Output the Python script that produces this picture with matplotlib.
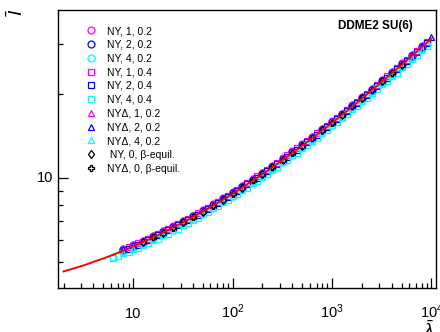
import matplotlib
matplotlib.use("Agg")
import matplotlib.pyplot as plt
from matplotlib.ticker import LogLocator, NullFormatter
from matplotlib.lines import Line2D

plt.rcParams['font.family'] = ['Liberation Sans', 'DejaVu Sans']
plt.rcParams['mathtext.fontset'] = 'custom'
plt.rcParams['mathtext.rm'] = 'Liberation Sans'
plt.rcParams['mathtext.it'] = 'Liberation Sans:italic'
plt.rcParams['mathtext.bf'] = 'Liberation Sans:bold'

# ---------------- data ----------------
lam_fit = [2, 2.5, 3.2, 4, 5, 6.3, 8, 10, 12.5, 16, 20, 25, 32, 40, 50, 63, 80, 100, 125, 160, 200,
           250, 320, 400, 500, 630, 800, 1000, 1250, 1600, 2000, 2500, 3200, 4000, 5000, 6300, 8000, 10000]
I_fit = [4.64, 4.75, 4.88, 5.02, 5.16, 5.32, 5.51, 5.70, 5.90, 6.14, 6.38, 6.64, 6.95, 7.26, 7.59, 7.96, 8.37,
         8.79, 9.25, 9.80, 10.33, 10.91, 11.61, 12.30, 13.04, 13.87, 14.80, 15.75, 16.78, 18.01, 19.23, 20.54,
         22.12, 23.67, 25.35, 27.22, 29.33, 31.46]

lam_a = [8, 10, 12.5, 16, 20, 25, 32, 40, 50, 63, 80, 100, 125, 160, 200, 250, 320, 400, 500, 630, 800,
         1000, 1250, 1600, 2000, 2500, 3200, 4000, 5000, 6300, 8000]
lam_a_ext = lam_a + [10000]
lam_a_low = [6.3] + lam_a
lam_b = [9, 11.2, 14.1, 17.8, 22.4, 28.2, 35.5, 44.7, 56.2, 70.8, 89.1, 112, 141, 178, 224, 282, 355, 447,
         562, 708, 891, 1122, 1413, 1778, 2239, 2818, 3548, 4467, 5623, 7079, 8913]
lam_b_low = [6.3, 7.08] + lam_b

I_ny_1_02 = [5.57, 5.76, 5.97, 6.22, 6.46, 6.72, 7.03, 7.34, 7.68, 8.05, 8.47, 8.90, 9.36, 9.91, 10.45, 11.04,
             11.75, 12.45, 13.20, 14.04, 14.98, 15.94, 16.98, 18.23, 19.46, 20.79, 22.39, 23.95, 25.65, 27.55, 29.68]
I_ny_2_02 = [5.54, 5.72, 5.93, 6.17, 6.41, 6.67, 6.98, 7.29, 7.62, 8.00, 8.41, 8.84, 9.29, 9.84, 10.38, 10.96,
             11.67, 12.36, 13.11, 13.94, 14.87, 15.83, 16.86, 18.10, 19.33, 20.64, 22.23, 23.79, 25.48, 27.36, 29.48]
I_ny_4_02 = [5.24, 5.43, 5.61, 5.81, 6.05, 6.28, 6.54, 6.85, 7.15, 7.47, 7.84, 8.25, 8.66, 9.11, 9.65, 10.18,
             10.75, 11.44, 12.12, 12.84, 13.66, 14.58, 15.51, 16.53, 17.74, 18.94, 20.23, 21.79, 23.31, 24.97,
             26.81, 28.89]
I_ny_1_04 = [5.65, 5.84, 6.07, 6.31, 6.56, 6.85, 7.16, 7.48, 7.83, 8.23, 8.65, 9.09, 9.59, 10.14, 10.70, 11.34,
             12.05, 12.76, 13.56, 14.44, 15.39, 16.39, 17.52, 18.76, 20.03, 21.49, 23.06, 24.70, 26.48, 28.49, 30.62]
I_ny_2_04 = [5.59, 5.78, 6.01, 6.25, 6.50, 6.78, 7.09, 7.41, 7.75, 8.15, 8.56, 9.00, 9.50, 10.04, 10.60, 11.23,
             11.93, 12.63, 13.42, 14.30, 15.24, 16.23, 17.35, 18.57, 19.83, 21.28, 22.83, 24.45, 26.22, 28.20, 30.32]
I_ny_4_04 = [5.18, 5.26, 5.44, 5.63, 5.85, 6.08, 6.33, 6.60, 6.90, 7.21, 7.55, 7.93, 8.34, 8.77, 9.25, 9.78,
             10.32, 10.94, 11.62, 12.31, 13.07, 13.93, 14.84, 15.80, 16.89, 18.09, 19.31, 20.72, 22.24, 23.81,
             25.53, 27.47, 29.53]
I_nyd_1_02 = [5.61, 5.80, 6.00, 6.25, 6.50, 6.76, 7.08, 7.39, 7.72, 8.10, 8.52, 8.95, 9.41, 9.97, 10.52, 11.11,
              11.82, 12.52, 13.27, 14.12, 15.07, 16.03, 17.08, 18.33, 19.58, 20.91, 22.52, 24.10, 25.81, 27.71, 29.86]
I_nyd_2_02 = [5.56, 5.75, 5.96, 6.20, 6.44, 6.71, 7.02, 7.33, 7.66, 8.04, 8.46, 8.88, 9.34, 9.89, 10.43, 11.02,
              11.73, 12.42, 13.17, 14.01, 14.95, 15.91, 16.95, 18.19, 19.42, 20.75, 22.34, 23.91, 25.60, 27.49,
              29.62, 31.77]
I_nyd_4_02 = [5.40, 5.58, 5.78, 6.02, 6.25, 6.51, 6.81, 7.11, 7.43, 7.80, 8.21, 8.62, 9.06, 9.60, 10.12, 10.69,
              11.38, 12.05, 12.78, 13.59, 14.50, 15.44, 16.44, 17.65, 18.85, 20.13, 21.68, 23.20, 24.84, 26.68, 28.74]

lam_ny_beta = [12.5, 20, 32, 50, 80, 125, 200, 320, 500, 800, 1250, 2000, 3200, 5000]
I_ny_beta = [5.90, 6.38, 6.95, 7.59, 8.37, 9.25, 10.33, 11.61, 13.04, 14.80, 16.78, 19.23, 22.12, 25.35]
lam_nyd_beta = [16, 25, 40, 63, 100, 160, 250, 400, 630, 1000, 1600, 2500, 4000]
I_nyd_beta = [6.14, 6.64, 7.26, 7.96, 8.79, 9.80, 10.91, 12.30, 13.87, 15.75, 18.01, 20.54, 23.67]

labels = ["NY, 1, 0.2", "NY, 2, 0.2", "NY, 4, 0.2", "NY, 1, 0.4", "NY, 2, 0.4", "NY, 4, 0.4",
          "NY\u0394, 1, 0.2", "NY\u0394, 2, 0.2", "NY\u0394, 4, 0.2", " NY, 0, \u03b2-equil.",
          "NY\u0394, 0, \u03b2-equil."]
xtick_vals = [10, 100, 1000, 10000]
xtick_text = ["10", "10$^{2}$", "10$^{3}$", "10$^{4}$"]

# ---------------- figure ----------------
fig = plt.figure(figsize=(4.4, 3.32), dpi=100)
ax = fig.add_axes([58/440, 1-288/332, (436-58)/440, (288-10)/332])

MAG, BLU, CYA = "#ff00ff", "#0000ff", "#00ffff"
series = [
    (lam_a, I_ny_1_02, 'o', MAG), (lam_a, I_ny_2_02, 'o', BLU), (lam_a_low, I_ny_4_02, 'o', CYA),
    (lam_b, I_ny_1_04, 's', MAG), (lam_b, I_ny_2_04, 's', BLU), (lam_b_low, I_ny_4_04, 's', CYA),
    (lam_a, I_nyd_1_02, '^', MAG), (lam_a_ext, I_nyd_2_02, '^', BLU), (lam_a, I_nyd_4_02, '^', CYA),
    (lam_ny_beta, I_ny_beta, 'd', 'black'), (lam_nyd_beta, I_nyd_beta, 'P', 'black'),
]
handles = []
for (lx, ly, m, c), lab in zip(series, labels):
    ms = 5.0 if m != 'd' else 4.5
    ax.plot(lx, ly, linestyle='none', marker=m, markersize=ms, markerfacecolor='none',
            markeredgecolor=c, markeredgewidth=0.9, zorder=2)
    handles.append(Line2D([], [], linestyle='none', marker=m, markersize=ms, markerfacecolor='none',
                          markeredgecolor=c, markeredgewidth=0.9, label=lab))

ax.plot(lam_fit, I_fit, color='#ff0000', lw=1.4, zorder=3)

ax.set_xscale('log')
ax.set_yscale('log')
ax.set_xlim(1.76, 1.11e4)
ax.set_ylim(4.05, 39.8)

ax.xaxis.set_major_locator(LogLocator(base=10, numticks=10))
ax.xaxis.set_minor_locator(LogLocator(base=10, subs=range(2, 10), numticks=50))
ax.yaxis.set_major_locator(LogLocator(base=10, numticks=10))
ax.yaxis.set_minor_locator(LogLocator(base=10, subs=range(2, 10), numticks=50))
ax.xaxis.set_major_formatter(NullFormatter())
ax.xaxis.set_minor_formatter(NullFormatter())
ax.yaxis.set_major_formatter(NullFormatter())
ax.yaxis.set_minor_formatter(NullFormatter())
ax.tick_params(which='major', direction='in', length=7, width=0.9, top=False, right=False)
ax.tick_params(which='minor', direction='in', length=3.8, width=0.9, top=False, right=False)
for s in ax.spines.values():
    s.set_linewidth(1.0)

tr = ax.get_xaxis_transform()
for v, t in zip(xtick_vals, xtick_text):
    ax.text(v, -0.108, t, transform=tr, ha='center', va='baseline', fontsize=10.5, clip_on=False)
ax.text(-0.012, 10, "10", transform=ax.get_yaxis_transform(), ha='right', va='center', fontsize=10.5)

fig.text(429/440, 1-320/332, r"$\bar{\lambda}$", ha='center', va='top', fontsize=14)
fig.text(17/440, 1-12/332, r"$\bar{I}$", ha='center', va='center', rotation=90, fontsize=14)

ax.text(413/440, 1-26/332, "DDME2 SU(6)", transform=fig.transFigure, ha='right', va='center',
        fontsize=8.5, fontweight='bold')

leg = ax.legend(handles=handles, loc='upper left', bbox_to_anchor=(88/440, 1-26/332),
                bbox_transform=fig.transFigure, frameon=False, fontsize=7.5, handlelength=0.6,
                handletextpad=1.2, labelspacing=0.36, borderpad=0, borderaxespad=0)

fig.savefig("out.png", dpi=100)
